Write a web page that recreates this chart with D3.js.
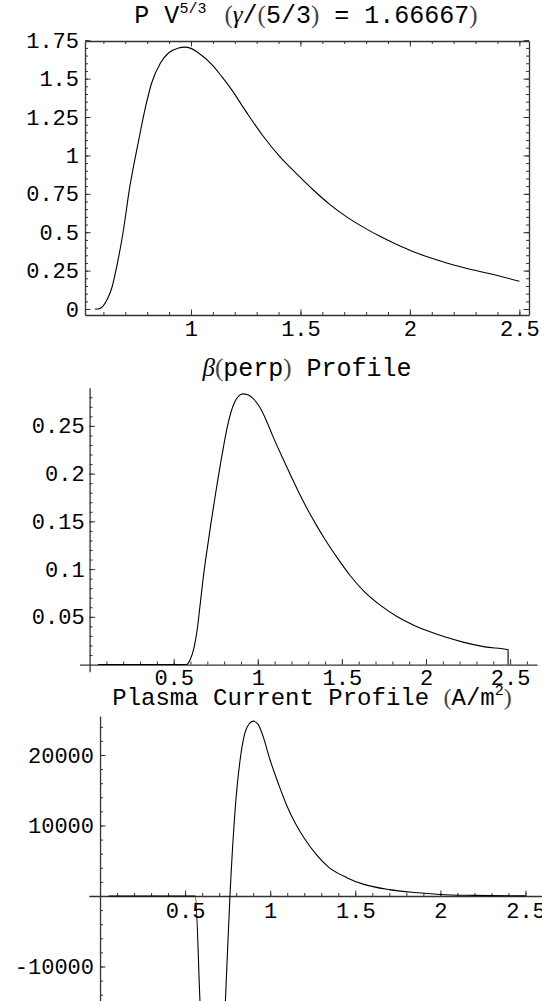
<!DOCTYPE html>
<html>
<head>
<meta charset="utf-8">
<script src="https://cdn.jsdelivr.net/npm/d3@7"></script>
<style>
  body { margin: 0; background: #fff; }
  svg text { font-family: "Liberation Mono", monospace; font-size: 22px; fill: #000; }
  svg .title { font-size: 25px; }
  svg .serif { font-family: "Liberation Serif", serif; fill: #444; }
  svg .tick line, svg .domain { stroke: #333; }
</style>
</head>
<body>
<div id="my_dataviz"></div>
<script>
// P V^(5/3) curve
var pvX = [0.561, 0.575, 0.59, 0.60, 0.62, 0.64, 0.66, 0.69, 0.72, 0.76, 0.79, 0.82, 0.86, 0.90, 0.94, 0.97, 1.00, 1.03, 1.10, 1.14, 1.18, 1.254, 1.33, 1.407, 1.483, 1.559, 1.635, 1.711, 1.787, 1.863, 1.94, 2.016, 2.09, 2.168, 2.24, 2.32, 2.40, 2.50];
var pvY = [0, 0, 0.008, 0.022, 0.07, 0.145, 0.27, 0.50, 0.79, 1.09, 1.30, 1.47, 1.60, 1.67, 1.698, 1.705, 1.697, 1.672, 1.585, 1.515, 1.44, 1.28, 1.125, 0.99, 0.88, 0.775, 0.68, 0.60, 0.533, 0.473, 0.42, 0.373, 0.335, 0.300, 0.272, 0.244, 0.218, 0.180];

// beta(perp) profile
var betaX = [0.05, 0.577, 0.60, 0.62, 0.64, 0.66, 0.68, 0.70, 0.72, 0.74, 0.76, 0.78, 0.80, 0.82, 0.84, 0.86, 0.88, 0.91, 0.94, 0.97, 1.01, 1.05, 1.09, 1.15, 1.20, 1.25, 1.30, 1.35, 1.40, 1.47, 1.55, 1.63, 1.73, 1.83, 1.93, 2.02, 2.12, 2.22, 2.35, 2.488, 2.4881];
var betaY = [0, 0, 0.006, 0.017, 0.037, 0.067, 0.097, 0.122, 0.146, 0.169, 0.191, 0.212, 0.232, 0.250, 0.264, 0.274, 0.280, 0.2835, 0.2825, 0.279, 0.270, 0.256, 0.239, 0.2155, 0.1965, 0.178, 0.161, 0.1455, 0.131, 0.1125, 0.093, 0.077, 0.062, 0.050, 0.041, 0.0345, 0.0285, 0.0235, 0.0185, 0.0155, 0];

// plasma current profile (A/m^2)
var curX = [0.05, 0.56, 0.587, 0.662, 0.737, 0.764, 0.794, 0.824, 0.85, 0.875, 0.90, 0.93, 0.96, 0.997, 1.05, 1.099, 1.15, 1.20, 1.27, 1.343, 1.45, 1.546, 1.70, 1.85, 2.0, 2.2, 2.5];
var curY = [0, 0, -14750, -55000, -14750, 280, 12270, 19470, 23000, 24400, 24800, 24300, 22500, 19470, 15800, 12740, 10200, 8180, 5900, 4090, 2600, 1680, 900, 490, 220, 90, 20];

// tick values and labels
var pvXTicks = [1, 1.5, 2, 2.5];
var pvXLabels = ["1", "1.5", "2", "2.5"];
var pvYTicks = [0, 0.25, 0.5, 0.75, 1, 1.25, 1.5, 1.75];
var pvYLabels = ["0", "0.25", "0.5", "0.75", "1", "1.25", "1.5", "1.75"];
var betaXTicks = [0.5, 1, 1.5, 2, 2.5];
var betaXLabels = ["0.5", "1", "1.5", "2", "2.5"];
var betaYTicks = [0.05, 0.1, 0.15, 0.2, 0.25];
var betaYLabels = ["0.05", "0.1", "0.15", "0.2", "0.25"];
var curXTicks = [0.5, 1, 1.5, 2, 2.5];
var curXLabels = ["0.5", "1", "1.5", "2", "2.5"];
var curYTicks = [-10000, 10000, 20000];
var curYLabels = ["-10000", "10000", "20000"];

var svg = d3.select("#my_dataviz")
    .append("svg")
    .attr("width", 542)
    .attr("height", 1001);

// draws a minor set and a major (labelled) set of inward ticks
function addTicks(axisFn, scale, transform, major, labels, minor, pad) {
    svg.append("g")
        .attr("transform", transform)
        .call(axisFn(scale).tickValues(minor).tickSize(-3).tickSizeOuter(0).tickFormat(""))
        .select(".domain").remove();
    var g = svg.append("g")
        .attr("transform", transform)
        .call(axisFn(scale).tickValues(major).tickSize(-5.5).tickSizeOuter(0).tickPadding(pad)
            .tickFormat(function(d, i) { return labels ? labels[i] : ""; }));
    g.select(".domain").attr("stroke-width", 1.3);
    return g;
}

var line = d3.line().curve(d3.curveMonotoneX);

function drawCurve(x, y, xs, ys) {
    svg.append("path")
        .datum(d3.zip(xs, ys))
        .attr("fill", "none")
        .attr("stroke", "#000")
        .attr("stroke-width", 1.1)
        .attr("d", line.x(function(d) { return x(d[0]); }).y(function(d) { return y(d[1]); }));
}

//----- top: framed plot
var x1 = d3.scaleLinear().domain([0.516, 2.544]).range([85, 529]);
var y1 = d3.scaleLinear().domain([-0.039, 1.745]).range([315, 41]);
var x1Minor = d3.range(0.6, 2.54, 0.1);
var y1Minor = d3.range(0, 1.76, 0.05);
addTicks(d3.axisBottom, x1, "translate(0,315)", pvXTicks, pvXLabels, x1Minor, 5);
addTicks(d3.axisTop, x1, "translate(0,41)", pvXTicks, null, x1Minor, 5);
addTicks(d3.axisLeft, y1, "translate(85,0)", pvYTicks, pvYLabels, y1Minor, 6);
addTicks(d3.axisRight, y1, "translate(529,0)", pvYTicks, null, y1Minor, 6);
drawCurve(x1, y1, pvX, pvY);

var t1 = svg.append("text").attr("class", "title").attr("x", 306).attr("y", 23).attr("text-anchor", "middle");
t1.append("tspan").text("P V");
t1.append("tspan").attr("dy", -10).style("font-size", "15px").text("5/3");
t1.append("tspan").attr("dy", 10).attr("dx", 18).attr("class", "serif").text("(");
t1.append("tspan").attr("class", "serif").style("font-style", "italic").style("fill", "#000").text("\u03b3");
t1.append("tspan").text("/");
t1.append("tspan").attr("class", "serif").text("(");
t1.append("tspan").text("5/3");
t1.append("tspan").attr("class", "serif").text(")");
t1.append("tspan").text(" = 1.66667");
t1.append("tspan").attr("class", "serif").text(")");

//----- middle: axes plot
var x2 = d3.scaleLinear().domain([-0.06, 2.66]).range([79.5, 537]);
var y2 = d3.scaleLinear().domain([-0.0075, 0.290]).range([671.7, 387.7]);
addTicks(d3.axisBottom, x2, "translate(0," + y2(0) + ")", betaXTicks, betaXLabels, d3.range(0.1, 2.65, 0.1), 5);
addTicks(d3.axisLeft, y2, "translate(" + x2(0) + ",0)", betaYTicks, betaYLabels, d3.range(0.01, 0.285, 0.01), 5);
drawCurve(x2, y2, betaX, betaY);

var t2 = svg.append("text").attr("class", "title").attr("x", 307).attr("y", 376).attr("text-anchor", "middle");
t2.append("tspan").attr("class", "serif").style("font-style", "italic").style("fill", "#000").text("\u03b2");
t2.append("tspan").attr("class", "serif").text("(");
t2.append("tspan").text("perp");
t2.append("tspan").attr("class", "serif").text(")");
t2.append("tspan").text(" Profile");

//----- bottom: axes plot
var x3 = d3.scaleLinear().domain([-0.066, 2.65]).range([88.8, 551]);
var y3 = d3.scaleLinear().domain([-30000, 25530]).range([1107.5, 716]);
var y3Minor = d3.range(-30000, 25000, 2000).filter(function(v) { return v != 0; });
addTicks(d3.axisBottom, x3, "translate(0," + y3(0) + ")", curXTicks, curXLabels, d3.range(0.1, 2.65, 0.1), 6);
addTicks(d3.axisLeft, y3, "translate(" + x3(0) + ",0)", curYTicks, curYLabels, y3Minor, 6);
drawCurve(x3, y3, curX, curY);

var t3 = svg.append("text").attr("class", "title").style("font-size", "24px").attr("x", 312).attr("y", 705).attr("text-anchor", "middle");
t3.append("tspan").text("Plasma Current Profile ");
t3.append("tspan").attr("class", "serif").text("(");
t3.append("tspan").text("A/m");
t3.append("tspan").attr("dy", -10).style("font-size", "15px").text("2");
t3.append("tspan").attr("dy", 10).attr("class", "serif").text(")");
</script>
</body>
</html>
